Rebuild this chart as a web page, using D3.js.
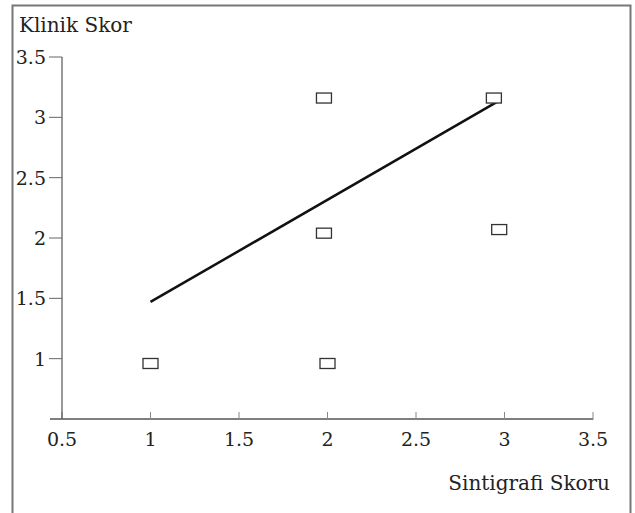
<!DOCTYPE html>
<html>
<head>
<meta charset="utf-8">
<script src="https://cdn.jsdelivr.net/npm/d3@7"></script>
<style>
  body { margin: 0; background: #fff; }
  svg text { font-family: "DejaVu Serif", "Liberation Serif", serif; fill: #222; }
</style>
</head>
<body>
<svg id="chart"></svg>
<script>
// scintigraphy score vs clinical score
const sintigrafi = [1, 2, 1.98, 1.98, 2.94, 2.97];
const klinik = [0.96, 0.96, 2.04, 3.16, 3.16, 2.07];
const fitX = [1, 2.96];
const fitY = [1.47, 3.13];
const xTicks = [0.5, 1, 1.5, 2, 2.5, 3, 3.5];
const yTicks = [1, 1.5, 2, 2.5, 3, 3.5];

const w = 635, h = 513;
const svg = d3.select('#chart').attr('width', w).attr('height', h);

// frame (no bottom edge)
svg.append('path')
    .attr('d', 'M12.5,' + h + 'V5.5H630.5V' + h)
    .attr('fill', 'none')
    .attr('stroke', '#777')
    .attr('stroke-width', 2);

const x = d3.scaleLinear().domain([0.5, 3.5]).range([62, 593]);
const y = d3.scaleLinear().domain([0.5, 3.5]).range([419, 57]);

// x axis
const gx = svg.append('g').attr('transform', 'translate(0,419)');
gx.append('line').attr('x1', 50).attr('x2', x(3.5))
    .attr('stroke', '#555').attr('stroke-width', 1.5);
gx.selectAll('.tick').data(xTicks).enter().append('line')
    .attr('x1', d => x(d)).attr('x2', d => x(d))
    .attr('y1', -7).attr('y2', 1)
    .attr('stroke', '#888');
gx.selectAll('.lbl').data(xTicks).enter().append('text')
    .attr('x', d => x(d)).attr('y', 27)
    .attr('text-anchor', 'middle')
    .style('font-size', '19px')
    .text(d => d);

// y axis
const gy = svg.append('g').attr('transform', 'translate(62,0)');
gy.append('line').attr('y1', y(3.5)).attr('y2', 419)
    .attr('stroke', '#555').attr('stroke-width', 1.2);
gy.selectAll('.tick').data(yTicks).enter().append('line')
    .attr('x1', -13).attr('x2', 0)
    .attr('y1', d => y(d)).attr('y2', d => y(d))
    .attr('stroke', '#666');
gy.selectAll('.lbl').data(yTicks).enter().append('text')
    .attr('x', -16).attr('y', d => y(d) + 7)
    .attr('text-anchor', 'end')
    .style('font-size', '19px')
    .text(d => d);

svg.append('text').attr('x', 19).attr('y', 32)
    .style('font-size', '20px').text('Klinik Skor');
svg.append('text').attr('x', 610).attr('y', 490)
    .attr('text-anchor', 'end')
    .style('font-size', '20px').text('Sintigrafi Skoru');

// regression line
svg.append('line')
    .attr('x1', x(fitX[0])).attr('y1', y(fitY[0]))
    .attr('x2', x(fitX[1])).attr('y2', y(fitY[1]))
    .attr('stroke', '#111').attr('stroke-width', 2.5);

// points
svg.selectAll('.pt').data(sintigrafi).enter().append('rect')
    .attr('x', d => x(d) - 7.5)
    .attr('y', (d, i) => y(klinik[i]) - 5)
    .attr('width', 15).attr('height', 10)
    .attr('fill', '#fff')
    .attr('stroke', '#333').attr('stroke-width', 1.3);
</script>
</body>
</html>
